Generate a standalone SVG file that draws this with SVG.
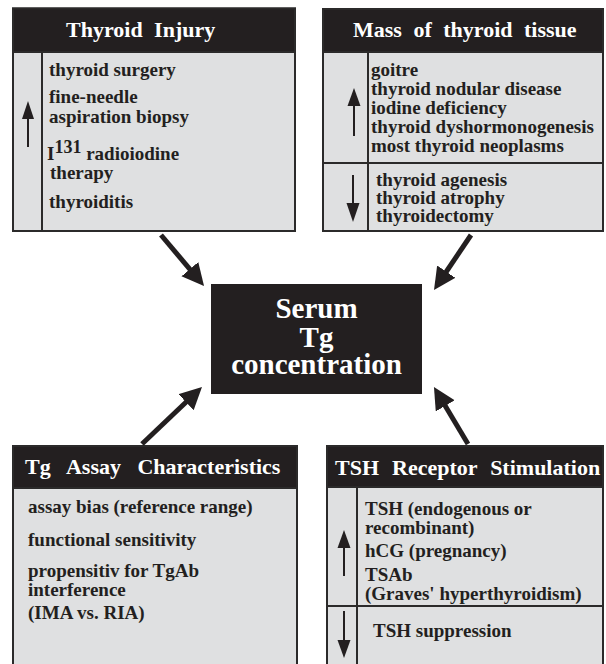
<svg xmlns="http://www.w3.org/2000/svg" width="606" height="664" viewBox="0 0 606 664">
<defs>
<style>
.box{fill:#dfe0e1;stroke:#2b2a2a;stroke-width:2}
.hdr{fill:#231f20;stroke:#2b2a2a;stroke-width:2}
.div{stroke:#2b2a2a;stroke-width:2;fill:none}
.ht{font-family:"Liberation Serif","Times New Roman",serif;font-weight:bold;font-size:22px;fill:#ffffff;word-spacing:6px}
.bt{font-family:"Liberation Serif","Times New Roman",serif;font-weight:bold;font-size:19px;fill:#231f20}
.ct{font-family:"Liberation Serif","Times New Roman",serif;font-weight:bold;font-size:29px;fill:#ffffff;text-anchor:middle}
.conn{stroke:#231f20;stroke-width:5;fill:none;marker-end:url(#big)}
</style>
<marker id="big" markerUnits="userSpaceOnUse" markerWidth="24" markerHeight="24" refX="10" refY="11" orient="auto">
<path d="M0,0 L22,11 L0,22 z" fill="#231f20"/>
</marker>
</defs>
<rect width="606" height="664" fill="#ffffff"/>

<g id="thyroid-injury">
<rect class="box" x="13" y="8.5" width="282" height="222.5"/>
<rect class="hdr" x="13" y="8.5" width="282" height="43.5"/>
<text class="ht" x="66" y="37">Thyroid Injury</text>
<line class="div" x1="42" y1="52" x2="42" y2="231"/>
<path d="M28,147 L28,118" stroke="#231f20" stroke-width="2"/>
<path d="M22,119 L28,101 L34,119 z" fill="#231f20"/>
<text class="bt" x="49" y="76">thyroid surgery</text>
<text class="bt" x="49" y="103">fine-needle</text>
<text class="bt" x="49" y="123">aspiration biopsy</text>
<text class="bt" x="47" y="160">I<tspan font-size="18" dy="-7">131</tspan><tspan dy="7"> radioiodine</tspan></text>
<text class="bt" x="50" y="179">therapy</text>
<text class="bt" x="49" y="208">thyroiditis</text>
</g>

<g id="mass-thyroid-tissue">
<rect class="box" x="323" y="9" width="280" height="222"/>
<rect class="hdr" x="323" y="9" width="280" height="43"/>
<text class="ht" x="353" y="37">Mass of thyroid tissue</text>
<line class="div" x1="368" y1="52" x2="368" y2="231"/>
<line class="div" x1="323" y1="163" x2="603" y2="163"/>
<path d="M354,136 L354,104" stroke="#231f20" stroke-width="2"/>
<path d="M347.5,106 L354,88 L360.5,106 z" fill="#231f20"/>
<path d="M353,175 L353,205" stroke="#231f20" stroke-width="2"/>
<path d="M346.5,203 L353,222 L359.5,203 z" fill="#231f20"/>
<text class="bt" x="371" y="76">goitre</text>
<text class="bt" x="371" y="95">thyroid nodular disease</text>
<text class="bt" x="371" y="114">iodine deficiency</text>
<text class="bt" x="371" y="133">thyroid dyshormonogenesis</text>
<text class="bt" x="371" y="152">most thyroid neoplasms</text>
<text class="bt" x="376" y="186">thyroid agenesis</text>
<text class="bt" x="376" y="204">thyroid atrophy</text>
<text class="bt" x="376" y="222">thyroidectomy</text>
</g>

<g id="serum-tg">
<rect x="211" y="284" width="211" height="110" fill="#231f20"/>
<text class="ct" x="316.5" y="318">Serum</text>
<text class="ct" x="316.5" y="347">Tg</text>
<text class="ct" x="316.5" y="374">concentration</text>
</g>

<g id="tg-assay">
<rect class="box" x="13" y="446" width="284" height="230"/>
<rect class="hdr" x="13" y="446" width="284" height="42"/>
<text class="ht" x="25" y="474" style="word-spacing:11px">Tg Assay Characteristics</text>
<text class="bt" x="28" y="513">assay bias (reference range)</text>
<text class="bt" x="28" y="546">functional sensitivity</text>
<text class="bt" x="28" y="577">propensitiv for TgAb</text>
<text class="bt" x="28" y="596">interference</text>
<text class="bt" x="28" y="619">(IMA vs. RIA)</text>
</g>

<g id="tsh-receptor">
<rect class="box" x="327" y="446" width="276" height="230"/>
<rect class="hdr" x="327" y="446" width="276" height="41"/>
<text class="ht" x="335" y="475" style="word-spacing:7.5px">TSH Receptor Stimulation</text>
<line class="div" x1="357" y1="487" x2="357" y2="664"/>
<line class="div" x1="327" y1="606" x2="603" y2="606"/>
<path d="M344,576 L344,546" stroke="#231f20" stroke-width="2"/>
<path d="M337.5,548 L344,530 L350.5,548 z" fill="#231f20"/>
<path d="M344,611 L344,642" stroke="#231f20" stroke-width="2"/>
<path d="M337.5,640 L344,658 L350.5,640 z" fill="#231f20"/>
<text class="bt" x="365" y="515">TSH (endogenous or</text>
<text class="bt" x="365" y="534">recombinant)</text>
<text class="bt" x="365" y="557">hCG (pregnancy)</text>
<text class="bt" x="365" y="581">TSAb</text>
<text class="bt" x="365" y="600">(Graves' hyperthyroidism)</text>
<text class="bt" x="373" y="637">TSH suppression</text>
</g>

<g id="connectors">
<line class="conn" x1="161" y1="235" x2="196.3" y2="276.8"/>
<line class="conn" x1="471" y1="235" x2="440.7" y2="280"/>
<line class="conn" x1="142" y1="444" x2="193.3" y2="395.3"/>
<line class="conn" x1="468" y1="444" x2="440.1" y2="397.3"/>
</g>
</svg>
